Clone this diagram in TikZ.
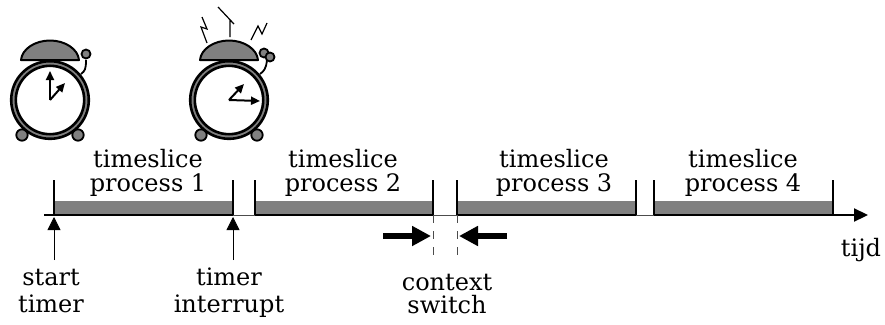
\documentclass[tikz,border=0pt]{standalone}
\usepackage{fontspec}
\setmainfont{DejaVu Serif}
\usetikzlibrary{arrows.meta}
\definecolor{midgray}{gray}{0.5}
\tikzset{
  x=1pt,y=-1pt,
  lbl/.style={font=\fontsize{24}{24}\selectfont,align=center,inner sep=0pt,anchor=base,text=black},
  ring/.style={draw=black,fill=white,line width=2.6pt},
  bar/.style={fill=midgray,draw=none},
  tick/.style={line width=2pt},
  hand/.style={line width=2pt,-{Triangle[length=9pt,width=8pt]}},
  zig/.style={line width=1.2pt,line join=miter},
  knob/.style={draw=black,fill=midgray,line width=1.8pt},
  timer/.style={line width=0.8pt,-{Triangle[length=13pt,width=13pt]}},
  fat/.style={line width=6pt,-{Triangle[length=19pt,width=19pt]},shorten >=0pt},
  guide/.style={line width=0.7pt,dash pattern=on 8pt off 8pt,draw=black!70},
  axisthick/.style={line width=2.2pt}
}
\newcommand{\clockbody}[2]{%
  \begin{scope}[shift={(#1,#2)}]
    \draw[knob] (-28,35) circle (5.7);
    \draw[knob] (28,35) circle (5.7);
    \draw[ring,fill=midgray] (0,0) circle (38.8);
    \draw[ring] (0,0) circle (34.2);
    \draw[knob,line width=2pt,line join=round] (-29,-40) .. controls (-28,-51) and (-15,-59.5) .. (0,-59.5) .. controls (15,-59.5) and (28,-51) .. (29,-40) -- cycle;
  \end{scope}}
\begin{document}
\begin{tikzpicture}
\useasboundingbox (0,0) rectangle (885,324);
% clocks
\clockbody{50}{100}
\clockbody{229}{100}
\draw[line width=1.8pt] (81,74) .. controls (85,71) and (86,69) .. (86,60);
\draw[knob] (86,54) circle (4.5);
\draw[hand] (50,100) -- (50,71);
\draw[hand] (50,100) -- (65,83);
\draw[line width=1.8pt] (260,74) .. controls (264,71) and (266,69) .. (267,60);
\draw[knob] (264,53) circle (4.5);
\draw[knob] (270,57) circle (4.5);
\draw[hand] (229,100) -- (260,101);
\draw[hand] (229,100) -- (244,84);
\draw[zig] (207,43) -- (201,27) -- (207,29) -- (202,17);
\draw[zig] (230,37) -- (230,20) -- (234,24) -- (218,7);
\draw[zig] (251,40) -- (258,26) -- (262,34) -- (267,23);
% bars
\node[bar,minimum width=179pt,minimum height=13pt,inner sep=0pt,anchor=north west] (b1) at (54,201) {};
\node[bar,minimum width=178pt,minimum height=13pt,inner sep=0pt,anchor=north west] (b2) at (255,201) {};
\node[bar,minimum width=179pt,minimum height=13pt,inner sep=0pt,anchor=north west] (b3) at (457,201) {};
\node[bar,minimum width=179pt,minimum height=13pt,inner sep=0pt,anchor=north west] (b4) at (654,201) {};
% axis
\coordinate (a0) at (44,215);
\coordinate (a1) at (868,215);
\foreach \x/\n in {54/s1,233/e1,255/s2,433/e2,457/s3,636/e3,654/s4,833/e4}{
  \coordinate (\n) at (\x,215);
  \coordinate (\n t) at (\x,180);
  \draw[tick] (\n) -- (\n t);
}
\draw[line width=0.8pt,draw=black!70] (e1) -- (s2);
\draw[line width=0.8pt,draw=black!70] (e2) -- (s3);
\draw[line width=0.8pt,draw=black!70] (e3) -- (s4);
\draw[axisthick] (a0) -- (e1);
\draw[axisthick] (s2) -- (e2);
\draw[axisthick] (s3) -- (e3);
\draw[axisthick,-{Triangle[length=14pt,width=13pt]}] (s4) -- (a1);
% timeslice labels
\node[lbl] (t1) at (148,167) {timeslice}; \node[lbl] (p1) at (148,191) {process 1};
\node[lbl] (t2) at (343,167) {timeslice}; \node[lbl] (p2) at (343,191) {process 2};
\node[lbl] (t3) at (554,167) {timeslice}; \node[lbl] (p3) at (554,191) {process 3};
\node[lbl] (t4) at (743,167) {timeslice}; \node[lbl] (p4) at (743,191) {process 4};
% timer arrows
\coordinate (u1) at (54,260); \coordinate (v1) at (54,217);
\coordinate (u2) at (233,260); \coordinate (v2) at (233,217);
\draw[timer] (u1) -- (v1);
\draw[timer] (u2) -- (v2);
\node[lbl] (st1) at (51,285) {start}; \node[lbl] (st2) at (51,312) {timer};
\node[lbl] (ti1) at (229,285) {timer}; \node[lbl] (ti2) at (229,312) {interrupt};
% context switch
\coordinate (d1) at (433,258); \coordinate (d2) at (457,258);
\draw[guide] (e2) -- (d1);
\draw[guide] (s3) -- (d2);
\coordinate (la) at (383,236); \coordinate (lb) at (431,236);
\coordinate (ra) at (507,236); \coordinate (rb) at (459,236);
\draw[fat] (la) -- (lb);
\draw[fat] (ra) -- (rb);
\node[lbl] (c1) at (447,290) {context}; \node[lbl] (c2) at (447,313) {switch};
\node[lbl] (tijd) at (861,256) {tijd};
\end{tikzpicture}
\end{document}
